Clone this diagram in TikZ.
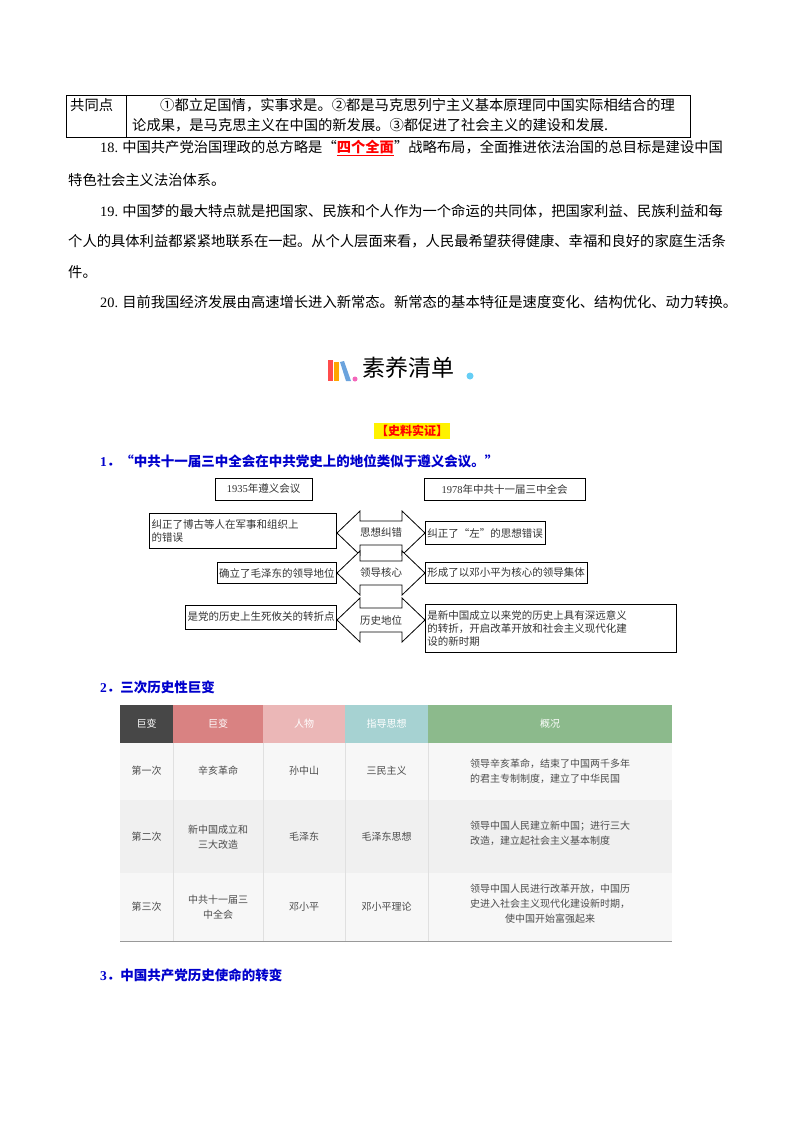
\documentclass[tikz,border=0pt]{standalone}
\usepackage{fontspec}
\setmainfont{Noto Sans CJK SC}
\newfontfamily\numf{Liberation Serif}
\begin{document}
\begin{tikzpicture}[x=1pt,y=-1pt,
  body/.style={anchor=west,inner sep=0pt,font=\fontsize{14.3}{16}\selectfont},
  hd/.style={anchor=west,inner sep=0pt,font=\fontsize{13.5}{16}\selectfont\bfseries,text=blue!80!black},
  dbox/.style={draw,line width=0.8pt,inner sep=2pt,font=\fontsize{10.5}{13}\selectfont,text=black!80},
  th/.style={inner sep=0pt,font=\fontsize{10}{12}\selectfont,text=white},
  td/.style={inner sep=0pt,align=center,font=\fontsize{10}{15}\selectfont,text=black!70}]
\useasboundingbox (0,0) rectangle (800,1132);
\fill[white] (0,0) rectangle (800,1132);
% top table
\draw[line width=0.8pt] (66,95) rectangle (690,137);
\draw[line width=0.8pt] (126,95) -- (126,137);
\node[body] (gtd) at (70,105) {共同点};
\node[body] (l1) at (160,105) {①都立足国情，实事求是。②都是马克思列宁主义基本原理同中国实际相结合的理};
\node[body] (l2) at (132,125) {论成果，是马克思主义在中国的新发展。③都促进了社会主义的建设和发展.};
\node[body] (p18) at (100,148) {{\numf 18.} 中国共产党治国理政的总方略是“\textcolor{red}{\bfseries\underline{四个全面}}”战略布局，全面推进依法治国的总目标是建设中国};
\node[body] (p18b) at (68,180) {特色社会主义法治体系。};
\node[body] (p19) at (100,211) {{\numf 19.} 中国梦的最大特点就是把国家、民族和个人作为一个命运的共同体，把国家利益、民族利益和每};
\node[body] (p19b) at (68,241) {个人的具体利益都紧紧地联系在一起。从个人层面来看，人民最希望获得健康、幸福和良好的家庭生活条};
\node[body] (p19c) at (68,272) {件。};
\node[body] (p20) at (100,302) {{\numf 20.} 目前我国经济发展由高速增长进入新常态。新常态的基本特征是速度变化、结构优化、动力转换。};
% title
\fill[red!60!pink] (328,360) rectangle (333,381);
\fill[orange!70!yellow] (334,362) rectangle (339,381);
\fill[cyan!60!blue!60] (340,362) -- (344,361) -- (351,381) -- (346,381) -- cycle;
\fill[magenta!60] (355,379) circle (2.5);
\node[inner sep=0pt,anchor=west,font=\fontsize{23}{25}\selectfont] (title) at (362,368) {素养清单};
\fill[cyan!60] (470,376) circle (3.5);
\node[fill=yellow,inner sep=2pt,font=\fontsize{12}{14}\selectfont\bfseries,text=red] (slsz) at (412,431) {【史料实证】};
\node[hd] (h1) at (100,461) {{\numf 1}．“中共十一届三中全会在中共党史上的地位类似于遵义会议。”};
% diagram
\node[dbox,minimum width=97pt,minimum height=22pt] (zy) at (263.5,489) {{\numf 1935}年遵义会议};
\node[dbox,minimum width=161pt,minimum height=22pt] (sz) at (504.5,489) {{\numf 1978}年中共十一届三中全会};
\foreach \yc in {533,573,620}{
  \draw[line width=0.8pt,fill=white] (337,\yc) -- (360,\yc-22) -- (360,\yc-12) -- (402,\yc-12) -- (402,\yc-22) -- (425,\yc) -- (402,\yc+22) -- (402,\yc+12) -- (360,\yc+12) -- (360,\yc+22) -- cycle;
}
\node[inner sep=0pt,font=\fontsize{10.5}{13}\selectfont,text=black!80] (a1) at (381,533) {思想纠错};
\node[inner sep=0pt,font=\fontsize{10.5}{13}\selectfont,text=black!80] (a2) at (381,573) {领导核心};
\node[inner sep=0pt,font=\fontsize{10.5}{13}\selectfont,text=black!80] (a3) at (381,620) {历史地位};
\node[dbox,anchor=east,text width=183pt,minimum height=35pt,align=left] (L1) at (337,531) {纠正了博古等人在军事和组织上\\的错误};
\node[dbox,anchor=east,minimum height=21pt] (L2) at (337,573) {确立了毛泽东的领导地位};
\node[dbox,anchor=east,minimum height=24pt] (L3) at (337,617) {是党的历史上生死攸关的转折点};
\node[dbox,anchor=west,minimum height=23pt] (R1) at (425,533) {纠正了“左”的思想错误};
\node[dbox,anchor=west,minimum height=21pt] (R2) at (425,573) {形成了以邓小平为核心的领导集体};
\node[dbox,anchor=west,text width=247pt,minimum height=48pt,align=left] (R3) at (425,628) {是新中国成立以来党的历史上具有深远意义\\的转折，开启改革开放和社会主义现代化建\\设的新时期};
\node[hd] (h2) at (100,687) {{\numf 2}．三次历史性巨变};
% table
\fill[black!3] (120,743) rectangle (672,941);
\fill[black!6] (120,800) rectangle (672,873);
\fill[black!72] (120,705) rectangle (173,743);
\fill[red!40!white!85!black] (173,705) rectangle (263,743);
\fill[red!22!white!92!black] (263,705) rectangle (345,743);
\fill[teal!35] (345,705) rectangle (428,743);
\fill[green!40!black!45!white] (428,705) rectangle (672,743);
\foreach \xx in {173,263,345,428}{\draw[black!12] (\xx,743) -- (\xx,941);}
\draw[black!40,line width=1pt] (120,941) -- (672,941);
\node[th] (t00) at (146.5,724) {巨变};
\node[th] (t01) at (218,724) {巨变};
\node[th] (t02) at (304,724) {人物};
\node[th] (t03) at (386.5,724) {指导思想};
\node[th] (t04) at (550,724) {概况};
\node[td] (c10) at (146.5,771) {第一次};
\node[td] (c11) at (218,771) {辛亥革命};
\node[td] (c12) at (304,771) {孙中山};
\node[td] (c13) at (386.5,771) {三民主义};
\node[td,align=left] (c14) at (550,771) {领导辛亥革命，结束了中国两千多年\\的君主专制制度，建立了中华民国};
\node[td] (c20) at (146.5,837) {第二次};
\node[td] (c21) at (218,837) {新中国成立和\\三大改造};
\node[td] (c22) at (304,837) {毛泽东};
\node[td] (c23) at (386.5,837) {毛泽东思想};
\node[td,align=left] (c24) at (550,833) {领导中国人民建立新中国；进行三大\\改造，建立起社会主义基本制度};
\node[td] (c30) at (146.5,907) {第三次};
\node[td] (c31) at (218,907) {中共十一届三\\中全会};
\node[td] (c32) at (304,907) {邓小平};
\node[td] (c33) at (386.5,907) {邓小平理论};
\node[td] (c34) at (550,904) {领导中国人民进行改革开放，中国历\\史进入社会主义现代化建设新时期，\\使中国开始富强起来};
\node[hd] (h3) at (100,975) {{\numf 3}．中国共产党历史使命的转变};
\end{tikzpicture}
\end{document}
